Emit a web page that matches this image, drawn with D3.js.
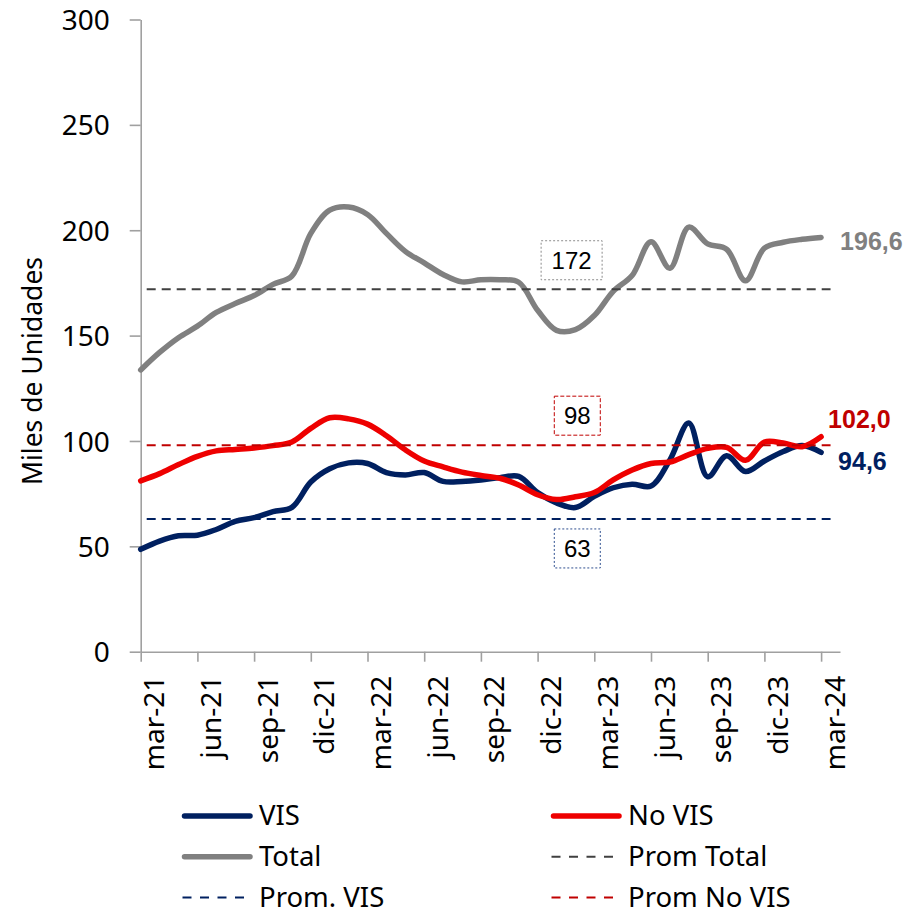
<!DOCTYPE html>
<html>
<head>
<meta charset="utf-8">
<script src="https://cdn.jsdelivr.net/npm/d3@7"></script>
<style>
  body { margin: 0; background: #fff; }
  svg { display: block; }
  .axis path, .axis line { stroke: #a0a0a0; stroke-width: 1.6; }
  .axis text { font-family: "Noto Sans", sans-serif; font-size: 28px; fill: #000; }
</style>
</head>
<body>
<div id="chart"></div>
<script>
// meses (mar-21 .. mar-24)
const months = ['mar-21','abr-21','may-21','jun-21','jul-21','ago-21','sep-21','oct-21','nov-21','dic-21',
  'ene-22','feb-22','mar-22','abr-22','may-22','jun-22','jul-22','ago-22','sep-22','oct-22','nov-22','dic-22',
  'ene-23','feb-23','mar-23','abr-23','may-23','jun-23','jul-23','ago-23','sep-23','oct-23','nov-23','dic-23',
  'ene-24','feb-24','mar-24'];

// miles de unidades
const vis = [48.6, 52.5, 55.0, 55.3, 58.0, 61.8, 63.6, 66.5, 68.5, 80.5, 86.8, 89.6, 89.3, 85.0, 83.9, 85.0,
  80.8, 80.8, 81.5, 82.6, 83.2, 75.5, 70.6, 68.4, 73.7, 77.8, 79.5, 78.6, 91.0, 108.5, 83.0, 93.0, 85.5,
  90.5, 95.0, 97.8, 94.6];
const noVis = [81.1, 84.5, 88.8, 92.7, 95.3, 96.0, 96.7, 97.8, 99.5, 106.0, 111.0, 110.5, 108.0, 102.5, 95.8,
  90.5, 87.7, 85.2, 83.6, 82.3, 79.1, 74.5, 72.2, 73.5, 75.5, 81.5, 86.2, 89.3, 90.0, 93.5, 96.5, 97.0, 90.8,
  99.5, 99.0, 97.3, 102.0];
const total = [133.7, 142.0, 149.0, 154.5, 161.0, 165.2, 169.0, 174.3, 178.3, 198.5, 209.5, 211.0, 207.5,
  198.5, 190.0, 184.5, 179.0, 175.5, 176.5, 176.5, 175.3, 162.0, 152.5, 152.8, 159.5, 171.0, 178.5, 194.5,
  182.0, 201.5, 193.5, 191.0, 176.0, 191.5, 194.3, 195.7, 196.6];

const promTotal = 172, promVis = 63, promNoVis = 98;
const yTicks = [0, 50, 100, 150, 200, 250, 300];

const width = 909, height = 915;
const plot = { left: 140.7, right: 840, top: 19.5, bottom: 651.7 };

const svg = d3.select('#chart').append('svg')
  .attr('width', width)
  .attr('height', height);

const x = d3.scaleLinear().domain([0, months.length]).range([plot.left, plot.right]);
const y = d3.scaleLinear().domain([0, 300]).range([plot.bottom, plot.top]);

// ejes
const yAxis = svg.append('g')
  .attr('class', 'axis')
  .attr('transform', `translate(${plot.left},0)`)
  .call(d3.axisLeft(y).tickValues(yTicks).tickSize(11).tickSizeOuter(0).tickPadding(20));
yAxis.selectAll('text').attr('dy', '0.36em');

const xAxis = svg.append('g')
  .attr('class', 'axis')
  .attr('transform', `translate(0,${plot.bottom})`)
  .call(d3.axisBottom(x)
    .tickValues(d3.range(0, months.length, 3))
    .tickFormat(i => months[i])
    .tickSize(10)
    .tickSizeOuter(0));
xAxis.selectAll('text')
  .attr('text-anchor', 'end')
  .attr('transform', 'translate(23,24) rotate(-90)')
  .attr('x', 0).attr('y', 0).attr('dy', 0);

svg.append('text')
  .attr('transform', `translate(42,371) rotate(-90)`)
  .attr('text-anchor', 'middle')
  .style('font-family', '"Noto Sans", sans-serif')
  .style('font-size', '26.5px')
  .text('Miles de Unidades');

// series
let line = d3.line()
  .x((d, i) => x(i))
  .y(d => y(d))
  .curve(d3.curveCatmullRom.alpha(0.5));

let series = [
  { name: 'VIS', values: vis, color: '#002060' },
  { name: 'No VIS', values: noVis, color: '#ee0000' },
  { name: 'Total', values: total, color: '#808080' }
];

series.forEach(function(s) {
  svg.append('path')
    .datum(s.values)
    .attr('fill', 'none')
    .attr('stroke', s.color)
    .attr('stroke-width', 5.5)
    .attr('stroke-linecap', 'round')
    .attr('stroke-linejoin', 'round')
    .attr('d', line);
});

// promedios
let avgs = [
  { name: 'Prom Total', value: promTotal, color: '#404040', box: '#8c8c8c', boxDash: '2,2', bx: 22.8, by: -29, bw: 61 },
  { name: 'Prom. VIS', value: promVis, color: '#002060', box: '#2f4f8f', boxDash: '2,2', bx: 23.1, by: 29.5, bw: 46 },
  { name: 'Prom No VIS', value: promNoVis, color: '#c00000', box: '#c00000', boxDash: '4,2', bx: 23.1, by: -29.5, bw: 46 }
];

avgs.forEach(function(a) {
  svg.append('line')
    .attr('x1', x(0)).attr('x2', x(36.5))
    .attr('y1', y(a.value)).attr('y2', y(a.value))
    .attr('stroke', a.color)
    .attr('stroke-width', 2)
    .attr('stroke-dasharray', '9,6')
    .attr('stroke-dashoffset', 9);

  let cx = x(a.bx), cy = y(a.value) + a.by;
  svg.append('rect')
    .attr('x', cx - a.bw / 2).attr('y', cy - 19.5)
    .attr('width', a.bw).attr('height', 39)
    .attr('fill', '#fff')
    .attr('stroke', a.box)
    .attr('stroke-width', 1)
    .attr('stroke-dasharray', a.boxDash);
  svg.append('text')
    .attr('x', cx).attr('y', cy)
    .attr('dy', '0.36em')
    .attr('text-anchor', 'middle')
    .style('font-family', '"Liberation Sans", Arial, sans-serif')
    .style('font-size', '24px')
    .text(a.value);
});

// etiquetas finales
let last = months.length - 1;
let fmt = v => v.toFixed(1).replace('.', ',');
let endLabels = [
  { value: total[last], color: '#808080', dx: 19, dy: 12.6 },
  { value: noVis[last], color: '#c00000', dx: 7, dy: -8.8 },
  { value: vis[last], color: '#002060', dx: 17, dy: 17.6 }
];
endLabels.forEach(function(l) {
  svg.append('text')
    .attr('x', x(last) + l.dx)
    .attr('y', y(l.value) + l.dy)
    .attr('fill', l.color)
    .style('font-family', '"Liberation Sans", Arial, sans-serif')
    .style('font-size', '25px')
    .style('font-weight', 'bold')
    .text(fmt(l.value));
});

// leyenda
let legend = [
  { name: 'VIS', color: '#002060', dash: null, col: 0, row: 0 },
  { name: 'No VIS', color: '#ee0000', dash: null, col: 1, row: 0 },
  { name: 'Total', color: '#808080', dash: null, col: 0, row: 1 },
  { name: 'Prom Total', color: '#404040', dash: '9,8.5', col: 1, row: 1 },
  { name: 'Prom. VIS', color: '#002060', dash: '9,8.5', col: 0, row: 2 },
  { name: 'Prom No VIS', color: '#c00000', dash: '9,8.5', col: 1, row: 2 }
];
let legendG = svg.append('g');
legend.forEach(function(d) {
  let lx = d.col === 0 ? 182 : 551;
  let ly = 816 + d.row * 40.8;
  let g = legendG.append('g').attr('transform', `translate(${lx},${ly})`);
  if (d.dash) {
    g.append('line').attr('x1', 0.5).attr('x2', 66)
      .attr('stroke', d.color).attr('stroke-width', 2)
      .attr('stroke-dasharray', d.dash);
  } else {
    g.append('line').attr('x1', 2.5).attr('x2', 68)
      .attr('stroke', d.color).attr('stroke-width', 5.5)
      .attr('stroke-linecap', 'round');
  }
  g.append('text')
    .attr('x', 77).attr('dy', '0.34em')
    .style('font-family', '"Noto Sans", sans-serif')
    .style('font-size', '27.5px')
    .text(d.name);
});
</script>
</body>
</html>
